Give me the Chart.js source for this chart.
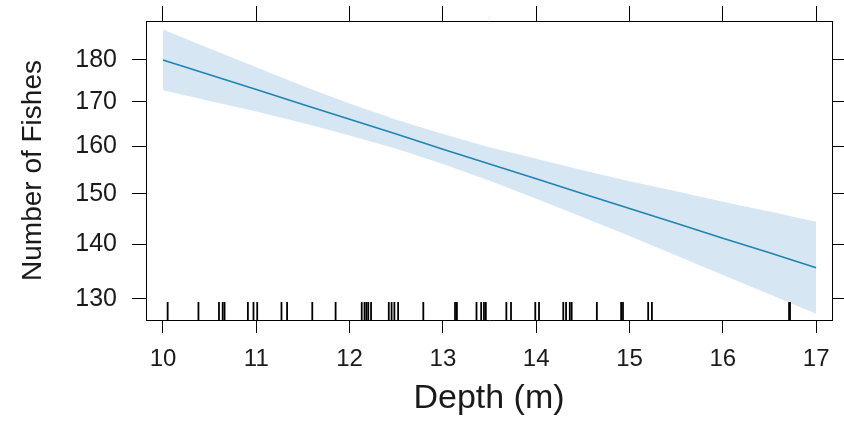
<!DOCTYPE html>
<html lang="en">
<head>
  <meta charset="UTF-8">
  <title>Number of Fishes vs Depth</title>
  <script src="https://cdn.jsdelivr.net/npm/chart.js"></script>
  <style>
    body { margin: 0; background: #fff; }
  </style>
</head>
<body>
  <canvas id="graficoEfeito" width="844" height="438"></canvas>

<script>
  // valores (escala log no eixo y)
  const depth = [10, 10.5, 11, 11.5, 12, 12.5, 13, 13.5, 14, 14.5, 15, 15.5, 16, 16.5, 17];
  const fitted = [180.0, 176.4, 172.9, 169.4, 166.0, 162.7, 159.4, 156.2, 153.1, 150.0, 147.0, 144.1, 141.2, 138.4, 135.6];
  const upper = [187.6, 182.8, 178.2, 173.7, 169.6, 165.9, 162.7, 159.8, 157.3, 154.9, 152.6, 150.5, 148.4, 146.4, 144.4];
  const lower = [172.7, 170.2, 167.8, 165.2, 162.4, 159.5, 156.2, 152.7, 149.0, 145.3, 141.6, 137.9, 134.3, 130.8, 127.4];

  // rug (observacoes de profundidade)
  const rugDepth = [10.05, 10.38, 10.60, 10.64, 10.66, 10.91, 10.97, 11.01, 11.27, 11.33,
    11.60, 11.85, 12.13, 12.16, 12.18, 12.20, 12.23, 12.42, 12.45, 12.48, 12.52,
    12.79, 13.13, 13.15, 13.36, 13.41, 13.44, 13.46, 13.68, 13.73, 13.99, 14.03,
    14.29, 14.32, 14.36, 14.38, 14.65, 14.91, 14.93, 15.20, 15.24, 16.71, 16.72];

  const xTicks = [10, 11, 12, 13, 14, 15, 16, 17];
  const yTicks = [130, 140, 150, 160, 170, 180];

  const xMin = 9.818, xMax = 17.17;
  const yMin = 126.3, yMax = 189.8;

  function pontos(ys) {
    return depth.map((d, i) => ({ x: d, y: ys[i] }));
  }

  const fonte = 'Liberation Sans, Arial, sans-serif';
  const corTexto = '#1a1a1a';

  // desenha o rug na base do painel
  const rugPlugin = {
    id: 'rug',
    afterDatasetsDraw(chart) {
      const ctx = chart.ctx;
      const area = chart.chartArea;
      const sx = chart.scales.x;
      ctx.save();
      ctx.strokeStyle = '#000';
      ctx.lineWidth = 1.8;
      rugDepth.forEach(v => {
        const px = sx.getPixelForValue(v);
        ctx.beginPath();
        ctx.moveTo(px, area.bottom);
        ctx.lineTo(px, area.bottom - 18);
        ctx.stroke();
      });
      ctx.restore();
    }
  };

  function gradeEixo(tickLen) {
    return {
      drawOnChartArea: false,
      drawTicks: true,
      tickLength: tickLen,
      color: '#000',
      lineWidth: 1
    };
  }

  // tamanho fixo de cada eixo, sem padding extra dos rotulos
  function tamanho(prop, valor) {
    return s => {
      s[prop] = valor;
      s.paddingTop = 0;
      s.paddingBottom = 0;
      s.paddingLeft = 0;
      s.paddingRight = 0;
    };
  }

  const config = {
    type: 'line',
    data: {
      datasets: [
        {
          label: 'fit',
          data: pontos(fitted),
          borderColor: '#2282b0',
          borderWidth: 1.6,
          pointRadius: 0,
          fill: false
        },
        {
          label: 'upper',
          data: pontos(upper),
          borderWidth: 0,
          pointRadius: 0,
          backgroundColor: '#d6e7f3',
          fill: '+1'
        },
        {
          label: 'lower',
          data: pontos(lower),
          borderWidth: 0,
          pointRadius: 0,
          fill: false
        }
      ]
    },
    options: {
      responsive: false,
      animation: false,
      layout: { padding: 0 },
      plugins: {
        legend: { display: false },
        tooltip: { enabled: false }
      },
      scales: {
        x: {
          type: 'linear',
          position: 'bottom',
          min: xMin,
          max: xMax,
          afterBuildTicks: s => { s.ticks = xTicks.map(v => ({ value: v })); },
          afterFit: tamanho('height', 118),
          grid: gradeEixo(13),
          border: { display: true, color: '#000', width: 1 },
          ticks: {
            color: corTexto,
            padding: 12,
            maxRotation: 0,
            font: { family: fonte, size: 24 },
            callback: v => String(v)
          },
          title: {
            display: true,
            text: 'Depth (m)',
            color: corTexto,
            font: { family: fonte, size: 34 },
            padding: { top: 0, bottom: 19 }
          }
        },
        x2: {
          type: 'linear',
          position: 'top',
          min: xMin,
          max: xMax,
          afterBuildTicks: s => { s.ticks = xTicks.map(v => ({ value: v })); },
          afterFit: tamanho('height', 21),
          grid: gradeEixo(15),
          border: { display: true, color: '#000', width: 1 },
          ticks: { padding: 0, font: { size: 1 }, callback: () => '' }
        },
        y: {
          type: 'logarithmic',
          position: 'left',
          min: yMin,
          max: yMax,
          afterBuildTicks: s => { s.ticks = yTicks.map(v => ({ value: v })); },
          afterFit: tamanho('width', 146),
          grid: gradeEixo(14),
          border: { display: true, color: '#000', width: 1 },
          ticks: {
            color: corTexto,
            padding: 15,
            font: { family: fonte, size: 25 },
            callback: v => String(v)
          },
          title: {
            display: true,
            text: 'Number of Fishes',
            color: corTexto,
            font: { family: fonte, size: 28 },
            padding: { top: 16, bottom: 0 }
          }
        },
        y2: {
          type: 'logarithmic',
          position: 'right',
          min: yMin,
          max: yMax,
          afterBuildTicks: s => { s.ticks = yTicks.map(v => ({ value: v })); },
          afterFit: tamanho('width', 12),
          grid: gradeEixo(12),
          border: { display: true, color: '#000', width: 1 },
          ticks: { padding: 0, font: { size: 1 }, callback: () => '' }
        }
      }
    },
    plugins: [rugPlugin]
  };

  let myChart = new Chart(document.getElementById('graficoEfeito'), config);
</script>
</body>
</html>
